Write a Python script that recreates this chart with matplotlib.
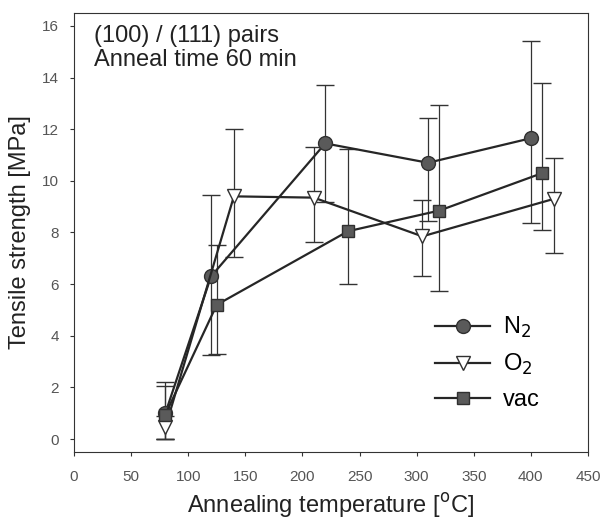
import matplotlib
matplotlib.use("Agg")
import matplotlib.pyplot as plt
from matplotlib.lines import Line2D

plt.rcParams['font.family'] = ['Liberation Sans', 'DejaVu Sans']

# --- data ---
n2_temp = [80, 120, 220, 310, 400]
n2_val = [1.0, 6.3, 11.45, 10.7, 11.65]
n2_lo = [1.0, 3.05, 2.25, 2.25, 3.3]
n2_hi = [1.2, 3.15, 2.25, 1.75, 3.75]

o2_temp = [80, 140, 210, 305, 420]
o2_val = [0.45, 9.4, 9.35, 7.85, 9.3]
o2_lo = [0.45, 2.33, 1.7, 1.55, 2.1]
o2_hi = [0.45, 2.6, 1.95, 1.4, 1.6]

vac_temp = [80, 125, 240, 320, 410]
vac_val = [0.95, 5.2, 8.05, 8.85, 10.3]
vac_lo = [0.95, 1.9, 2.05, 3.1, 2.2]
vac_hi = [1.1, 2.3, 3.2, 4.08, 3.5]

x_ticks = [0, 50, 100, 150, 200, 250, 300, 350, 400, 450]
y_ticks = [0, 2, 4, 6, 8, 10, 12, 14, 16]

fig = plt.figure(figsize=(6.03, 5.29), dpi=100)
ax = fig.add_axes([0.1227, 0.1456, 0.975 - 0.1227, 0.9754 - 0.1456])

line_col = '#262626'
fill_col = '#5a5a5a'
edge_col = '#303030'
err_kw = dict(ecolor='#333333', elinewidth=0.9, capsize=6.5, capthick=0.9)

# (marker, size, face) per series
styles = {
    'N2': ('o', 10, fill_col),
    'O2': ('v', 10.5, 'white'),
    'vac': ('s', 9, fill_col),
}

for key, t, v, lo, hi in [('N2', n2_temp, n2_val, n2_lo, n2_hi),
                          ('O2', o2_temp, o2_val, o2_lo, o2_hi),
                          ('vac', vac_temp, vac_val, vac_lo, vac_hi)]:
    m, ms, fc = styles[key]
    ax.errorbar(t, v, yerr=[lo, hi], color=line_col, lw=1.6, marker=m,
                ms=ms, mfc=fc, mec=edge_col, mew=1.0, **err_kw)

ax.set_xlim(0, 450)
ax.set_ylim(-0.5, 16.5)
ax.set_xticks(x_ticks)
ax.set_yticks(y_ticks)
ax.tick_params(direction='out', length=3, width=0.8, colors='#333333',
               labelsize=11, labelcolor='#555555', pad=8)
ax.tick_params(axis='x', pad=10)
for s in ax.spines.values():
    s.set_color('#333333')
    s.set_linewidth(0.8)

ax.set_xlabel('Annealing temperature [$^{\\mathrm{o}}$C]', fontsize=17,
              color='#222222', labelpad=5)
ax.set_ylabel('Tensile strength [MPa]', fontsize=17, color='#222222',
              labelpad=8)

ax.text(0.038, 0.972, '(100) / (111) pairs\nAnneal time 60 min',
        transform=ax.transAxes, ha='left', va='top', fontsize=17,
        color='#222222', linespacing=1.1)

# legend shows line + marker only (no error bars)
handles = []
labels = [r'N$_2$', r'O$_2$', 'vac']
for key in ['N2', 'O2', 'vac']:
    m, ms, fc = styles[key]
    handles.append(Line2D([], [], color=line_col, lw=1.6, marker=m, ms=ms,
                          mfc=fc, mec=edge_col, mew=1.0))
ax.legend(handles, labels, loc='lower right', bbox_to_anchor=(0.944, 0.05),
          frameon=False, fontsize=17, handlelength=2.35, labelspacing=0.5,
          handletextpad=0.55, borderpad=0.3)

fig.savefig('out.png', dpi=100, facecolor='white')
